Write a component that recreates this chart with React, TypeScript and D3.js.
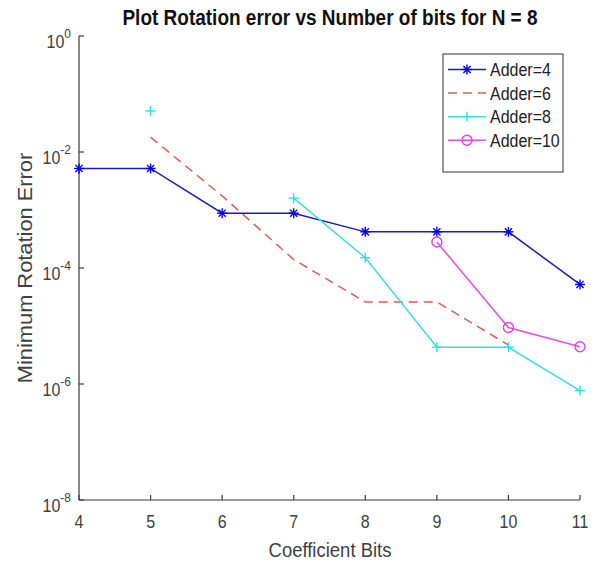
import React from 'react';
import * as d3 from 'd3';

const width = 593;
const height = 562;
const margin = { top: 36, right: 13, bottom: 62, left: 79 };

// coefficient bits on the x axis
const bits = [4, 5, 6, 7, 8, 9, 10, 11];
// minimum rotation error per adder count (null = no point)
const adder4 = [5.2e-3, 5.2e-3, 8.8e-4, 8.8e-4, 4.2e-4, 4.2e-4, 4.2e-4, 5.2e-5];
const adder6 = [null, 1.8e-2, 1.75e-3, 1.4e-4, 2.6e-5, 2.6e-5, 4.7e-6, null];
const adder8 = [null, 5.1e-2, null, 1.6e-3, 1.5e-4, 4.3e-6, 4.3e-6, 7.7e-7];
const adder10 = [null, null, null, null, null, 2.8e-4, 9.4e-6, 4.4e-6];

const seriesNames = ['Adder=4', 'Adder=6', 'Adder=8', 'Adder=10'];
const yTickExps = [0, -2, -4, -6, -8];

const series = [
  { name: seriesNames[0], values: adder4, color: '#1c1cae', markColor: '#0000e6', dash: null, marker: 'star' },
  { name: seriesNames[1], values: adder6, color: '#e05a5a', markColor: '#e05a5a', dash: '9,6', marker: 'none' },
  { name: seriesNames[2], values: adder8, color: '#3ddcdc', markColor: '#2ee0e0', dash: null, marker: 'plus' },
  { name: seriesNames[3], values: adder10, color: '#e050e0', markColor: '#e040e0', dash: null, marker: 'circle' },
];

// the picture's text is a bit taller than wide, stretch it a little
const SY = 1.12;

const Marker = ({ type, x, y, color }: { type: string; x: number; y: number; color: string }) => {
  const s = 5;
  if (type === 'star') {
    const d = 3.6;
    return (
      <g stroke={color} strokeWidth={1.4}>
        <line x1={x - s} y1={y} x2={x + s} y2={y} />
        <line x1={x} y1={y - s} x2={x} y2={y + s} />
        <line x1={x - d} y1={y - d} x2={x + d} y2={y + d} />
        <line x1={x - d} y1={y + d} x2={x + d} y2={y - d} />
      </g>
    );
  }
  if (type === 'plus') {
    return (
      <g stroke={color} strokeWidth={1.4}>
        <line x1={x - s} y1={y} x2={x + s} y2={y} />
        <line x1={x} y1={y - s} x2={x} y2={y + s} />
      </g>
    );
  }
  if (type === 'circle') {
    return <circle cx={x} cy={y} r={5} fill="none" stroke={color} strokeWidth={1.4} />;
  }
  return null;
};

const T = ({ x, y, children, ...rest }: any) => (
  <text transform={`translate(${x},${y}) scale(1,${SY})`} {...rest}>
    {children}
  </text>
);

export default function App() {
  const x = d3.scaleLinear().domain([4, 11]).range([margin.left, width - margin.right]);
  const y = d3.scaleLog().domain([1e-8, 1]).range([height - margin.bottom, margin.top]);

  const line = d3
    .line<number | null>()
    .defined(d => d != null)
    .x((d, i) => x(bits[i]))
    .y(d => y(d as number));

  const x0 = x(4);
  const y0 = y(1e-8);
  const axisColor = '#3a3a3a';
  const font = 'Liberation Sans, Arial, sans-serif';

  const legend = { x: 443, y: 54, w: 120, h: 118, row: 23.6 };

  return (
    <svg width={width} height={height} style={{ position: 'absolute', left: 0, top: 0, background: '#fff' }} fontFamily={font}>
      <T x={330} y={25} textAnchor="middle" fontWeight="bold" fontSize={19} fill="#111">
        Plot Rotation error vs Number of bits for N = 8
      </T>

      {/* axes */}
      <line x1={x0} y1={y(1)} x2={x0} y2={y0} stroke={axisColor} strokeWidth={1.2} />
      <line x1={x0} y1={y0} x2={x(11)} y2={y0} stroke={axisColor} strokeWidth={1.2} />
      {bits.map(b => (
        <g key={'xt' + b}>
          <line x1={x(b)} y1={y0} x2={x(b)} y2={y0 - 5} stroke={axisColor} strokeWidth={1.2} />
          <T x={x(b)} y={y0 + 28} textAnchor="middle" fontSize={16} fill="#404040">{b}</T>
        </g>
      ))}
      {yTickExps.map(e => (
        <g key={'yt' + e}>
          <line x1={x0} y1={y(Math.pow(10, e))} x2={x0 + 5} y2={y(Math.pow(10, e))} stroke={axisColor} strokeWidth={1.2} />
          <T x={71} y={y(Math.pow(10, e)) + 12} textAnchor="end" fontSize={16} fill="#404040">
            10<tspan dy={-8.5} fontSize={12}>{e}</tspan>
          </T>
        </g>
      ))}

      <T x={330} y={557} textAnchor="middle" fontSize={18.5} fill="#404040">Coefficient Bits</T>
      <text transform={`translate(32,268) scale(1,${SY}) rotate(-90)`} textAnchor="middle" fontSize={19.5} fill="#404040">
        Minimum Rotation Error
      </text>

      {/* series */}
      {series.map(s => (
        <g key={s.name}>
          <path d={line(s.values) || ''} fill="none" stroke={s.color} strokeWidth={1.5} strokeDasharray={s.dash || undefined} />
          {s.values.map((v, i) =>
            v == null ? null : <Marker key={i} type={s.marker} x={x(bits[i])} y={y(v)} color={s.markColor} />
          )}
        </g>
      ))}

      {/* legend */}
      <rect x={legend.x} y={legend.y} width={legend.w} height={legend.h} fill="#fff" stroke="#333" strokeWidth={1} />
      {series.map((s, i) => {
        const ly = legend.y + 15.5 + i * legend.row;
        return (
          <g key={'lg' + s.name}>
            <line x1={legend.x + 5} y1={ly} x2={legend.x + 43} y2={ly} stroke={s.color} strokeWidth={1.5} strokeDasharray={s.dash || undefined} />
            <Marker type={s.marker} x={legend.x + 24} y={ly} color={s.markColor} />
            <T x={legend.x + 47} y={ly + 6.5} fontSize={16} fill="#222">{s.name}</T>
          </g>
        );
      })}
    </svg>
  );
}
